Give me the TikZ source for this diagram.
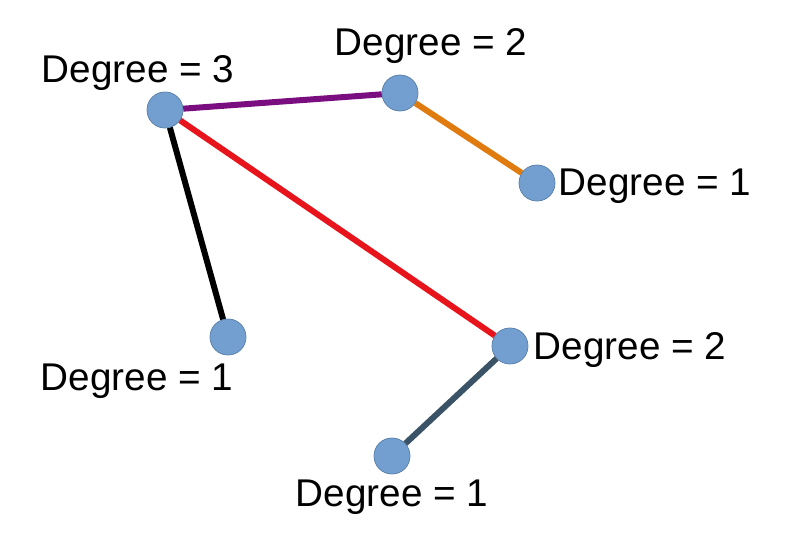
\documentclass[tikz,border=0pt]{standalone}
\usepackage{fontspec}
\setmainfont{Liberation Sans}
\definecolor{nodeblue}{HTML}{729FCF}
\definecolor{edgepurple}{HTML}{7A0E80}
\definecolor{edgeorange}{HTML}{E07B10}
\definecolor{edgered}{HTML}{E8141C}
\definecolor{edgeslate}{HTML}{3B5366}
\begin{document}
\begin{tikzpicture}[x=0.75pt,y=-0.75pt,
  vertex/.style={circle,fill=nodeblue,draw=nodeblue!80!black,thin,minimum size=27pt,inner sep=0pt},
  degree/.style={font=\fontsize{29}{30}\selectfont},
  edge/.style={line width=4.5pt}]
\useasboundingbox (0,0) rectangle (800,542);
% The vertices
\node[vertex] (a) at (165,110) {};
\node[vertex] (b) at (400,93) {};
\node[vertex] (c) at (537,183) {};
\node[vertex] (d) at (228,337) {};
\node[vertex] (e) at (510,346) {};
\node[vertex] (f) at (392,456) {};
% The edges
\begin{scope}[on background layer/.style={}]
\end{scope}
\draw[edge,edgepurple] (a) -- (b);
\draw[edge,edgeorange] (b) -- (c);
\draw[edge,black] (a) -- (d);
\draw[edge,edgered] (a) -- (e);
\draw[edge,edgeslate] (e) -- (f);
% redraw vertices on top
\foreach \v in {a,b,c,d,e,f}
  \node[vertex] at (\v) {};
% The labels
\node[degree] (la) at (138,73) {Degree = 3};
\node[degree] (lb) at (431,46) {Degree = 2};
\node[degree] (lc) at (655,186) {Degree = 1};
\node[degree] (ld) at (137,381) {Degree = 1};
\node[degree] (le) at (630,350) {Degree = 2};
\node[degree] (lf) at (392,497) {Degree = 1};
\end{tikzpicture}
\end{document}
